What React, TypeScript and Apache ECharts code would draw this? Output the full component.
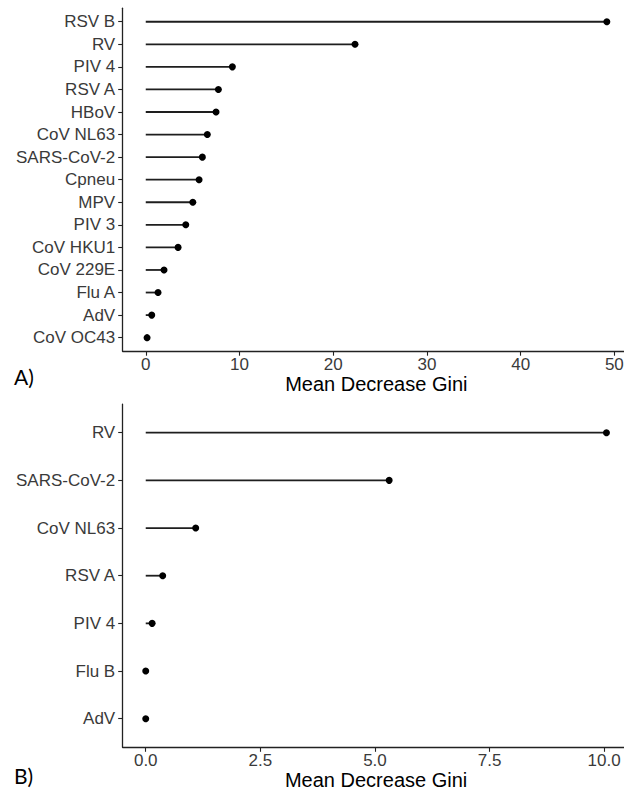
import React, { useEffect, useRef } from "react";
import * as echarts from "echarts";

// Panel A data
const topCategories = [
  "RSV B", "RV", "PIV 4", "RSV A", "HBoV", "CoV NL63", "SARS-CoV-2", "Cpneu",
  "MPV", "PIV 3", "CoV HKU1", "CoV 229E", "Flu A", "AdV", "CoV OC43",
];
const topValues = [49.2, 22.33, 9.24, 7.75, 7.5, 6.57, 6.04, 5.69, 5.02, 4.27, 3.45, 1.95, 1.31, 0.64, 0.14];
const topTicks = [0, 10, 20, 30, 40, 50];

// Panel B data
const bottomCategories = ["RV", "SARS-CoV-2", "CoV NL63", "RSV A", "PIV 4", "Flu B", "AdV"];
const bottomValues = [10.05, 5.31, 1.09, 0.37, 0.14, 0.0, 0.0];
const bottomTicks = [0, 2.5, 5, 7.5, 10];

const axisTitle = "Mean Decrease Gini";
const FONT = "'Liberation Sans', Arial, sans-serif";

function expand(vals: number[]) {
  const lo = Math.min(0, ...vals);
  const hi = Math.max(0, ...vals);
  const pad = (hi - lo) * 0.05;
  return [lo - pad, hi + pad];
}

export default function App() {
  const ref = useRef<HTMLDivElement>(null);
  useEffect(() => {
    if (!ref.current) return;
    const chart = echarts.init(ref.current, undefined, { renderer: "svg" });

    const [tMin, tMax] = expand(topValues);
    const [bMin, bMax] = expand(bottomValues);

    const renderItem = (params: any, api: any) => {
      const x = api.value(0);
      const y = api.value(1);
      const s = api.coord([0, y]);
      const e = api.coord([x, y]);
      return {
        type: "group",
        children: [
          {
            type: "line",
            shape: { x1: s[0], y1: s[1], x2: e[0], y2: e[1] },
            style: { stroke: "#1e1e1e", lineWidth: 1.8 },
          },
          {
            type: "circle",
            shape: { cx: e[0], cy: e[1], r: 3.5 },
            style: { fill: "#000" },
          },
        ],
      };
    };

    const xAxisCommon = (
      min: number,
      max: number,
      ticks: number[],
      fmt: (v: number) => string,
      gridIndex: number,
      nameGap: number
    ) => ({
      type: "value",
      gridIndex,
      min,
      max,
      splitLine: { show: false },
      axisLine: { show: true, onZero: false, lineStyle: { color: "#222", width: 1.3 } },
      axisTick: { show: true, length: 4.5, customValues: ticks, lineStyle: { color: "#222", width: 1.1 } },
      axisLabel: {
        show: true,
        customValues: ticks,
        formatter: (v: number) => fmt(v),
        color: "#3a3a3a",
        fontSize: 17,
        fontFamily: FONT,
        margin: 4.5,
      },
      name: axisTitle,
      nameLocation: "middle",
      nameGap,
      nameTextStyle: { fontSize: 20, color: "#000", fontFamily: FONT },
    });

    const yAxisCommon = (cats: string[], gridIndex: number) => ({
      type: "value",
      gridIndex,
      inverse: true,
      min: -0.6,
      max: cats.length - 1 + 0.6,
      splitLine: { show: false },
      axisLine: { show: true, onZero: false, lineStyle: { color: "#222", width: 1.3 } },
      axisTick: { show: true, length: 4.5, customValues: cats.map((_, i) => i), lineStyle: { color: "#222", width: 1.1 } },
      axisLabel: {
        show: true,
        customValues: cats.map((_, i) => i),
        formatter: (v: number) => cats[Math.round(v)] ?? "",
        color: "#3a3a3a",
        fontSize: 17,
        fontFamily: FONT,
        margin: 7.5,
      },
    });

    chart.setOption({
      animation: false,
      backgroundColor: "#fff",
      grid: [
        { left: 122.7, top: 8.2, width: 507.2, height: 343, containLabel: false, outerBoundsMode: "none" },
        { left: 122.7, top: 404.1, width: 506.8, height: 343.2, containLabel: false, outerBoundsMode: "none" },
      ],
      xAxis: [
        xAxisCommon(tMin, tMax, topTicks, (v) => String(Math.round(v)), 0, 22),
        xAxisCommon(bMin, bMax, bottomTicks, (v) => v.toFixed(1), 1, 19.5),
      ],
      yAxis: [yAxisCommon(topCategories, 0), yAxisCommon(bottomCategories, 1)],
      series: [
        {
          type: "custom",
          xAxisIndex: 0,
          yAxisIndex: 0,
          renderItem,
          encode: { x: 0, y: 1 },
          data: topValues.map((v, i) => [v, i]),
        },
        {
          type: "custom",
          xAxisIndex: 1,
          yAxisIndex: 1,
          renderItem,
          encode: { x: 0, y: 1 },
          data: bottomValues.map((v, i) => [v, i]),
        },
      ],
      graphic: [
        {
          type: "text",
          left: 14,
          top: 366,
          style: { text: "A)", fontSize: 21, fill: "#000", fontFamily: "Lato, 'Open Sans', sans-serif" },
        },
        {
          type: "text",
          left: 14,
          top: 765,
          style: { text: "B)", fontSize: 21, fill: "#000", fontFamily: "Lato, 'Open Sans', sans-serif" },
        },
      ],
    });

    return () => chart.dispose();
  }, []);

  return (
    <div
      ref={ref}
      style={{ position: "fixed", left: 0, top: 0, width: 624, height: 790, background: "#fff" }}
    />
  );
}
